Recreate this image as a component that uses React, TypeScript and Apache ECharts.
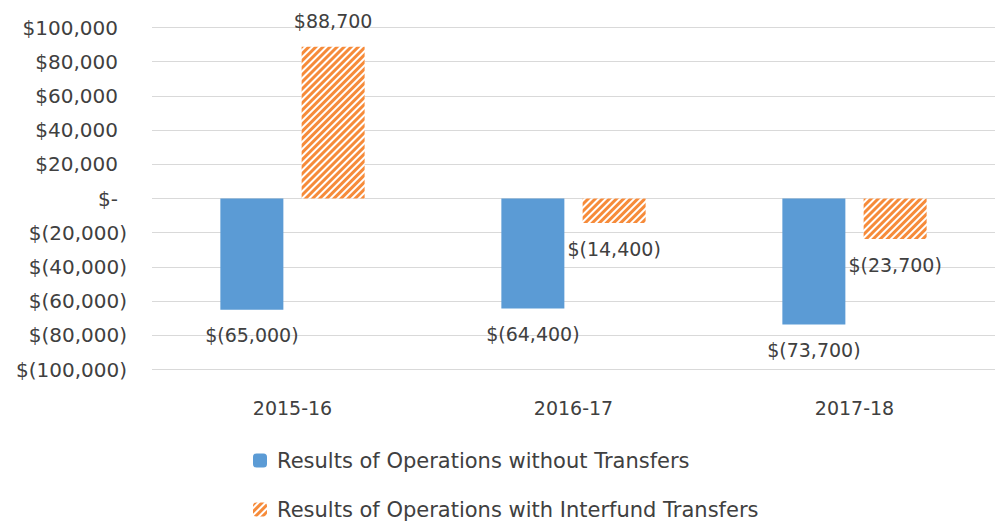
import React, { useEffect, useRef } from "react";
import * as echarts from "echarts";

const categories = ["2015-16", "2016-17", "2017-18"];
const withoutTransfers = [-65000, -64400, -73700];
const withTransfers = [88700, -14400, -23700];
const seriesNames = [
  "Results of Operations without Transfers",
  "Results of Operations with Interfund Transfers",
];

const FONT = "DejaVu Sans";

function money(v: number): string {
  if (v === 0) return "$-";
  const s = Math.abs(v).toLocaleString("en-US");
  return v < 0 ? "$(" + s + ")" : "$" + s;
}

export default function App() {
  const ref = useRef<HTMLDivElement>(null);
  useEffect(() => {
    document.body.style.margin = "0";
    const chart = echarts.init(ref.current!, null, { renderer: "svg" });
    const labelStyle = {
      show: true,
      fontFamily: FONT,
      fontSize: 19,
      color: "#404040",
      distance: 16,
      formatter: (p: any) => money(p.value),
    };
    chart.setOption({
      animation: false,
      backgroundColor: "#ffffff",
      textStyle: { fontFamily: FONT },
      grid: { left: 152, right: -9, top: 27.5, bottom: 157.5, containLabel: false },
      xAxis: {
        type: "category",
        data: categories,
        axisLine: { show: false, onZero: false },
        axisTick: { show: false },
        axisLabel: { fontFamily: FONT, fontSize: 19, color: "#404040", margin: 29 },
      },
      yAxis: {
        type: "value",
        min: -100000,
        max: 100000,
        interval: 20000,
        axisLine: { show: false },
        axisTick: { show: false },
        splitLine: { lineStyle: { color: "#d9d9d9", width: 1 } },
        axisLabel: {
          margin: 25,
          fontFamily: FONT,
          fontSize: 20,
          color: "#404040",
          formatter: (v: number) => (v < 0 ? money(v) : "{p|" + money(v) + "}"),
          rich: {
            p: { fontFamily: FONT, fontSize: 20, color: "#404040", padding: [0, 9, 0, 0] },
          },
        },
      },
      legend: {
        orient: "vertical",
        left: 253,
        top: 450,
        padding: 0,
        itemWidth: 14,
        itemHeight: 14,
        itemGap: 28,
        textStyle: { fontFamily: FONT, fontSize: 21, color: "#404040", padding: [0, 0, 0, 5] },
        data: seriesNames,
      },
      series: [
        {
          name: seriesNames[0],
          type: "bar",
          data: withoutTransfers,
          barWidth: 63,
          barGap: "29%",
          itemStyle: { color: "#5B9BD5" },
          label: { ...labelStyle, position: "bottom" },
        },
        {
          name: seriesNames[1],
          type: "bar",
          data: withTransfers.map((v) => ({
            value: v,
            label: { position: v >= 0 ? "top" : "bottom" },
          })),
          barWidth: 63,
          itemStyle: {
            color: "#ffffff",
            decal: {
              symbol: "rect",
              symbolSize: 1,
              color: "#F68B3A",
              backgroundColor: "#ffffff",
              dashArrayX: [1, 0],
              dashArrayY: [2.2, 2],
              rotation: -Math.PI / 4,
            },
          },
          label: { ...labelStyle },
        },
      ],
    });
    return () => chart.dispose();
  }, []);
  return <div ref={ref} style={{ width: 995, height: 527 }} />;
}
